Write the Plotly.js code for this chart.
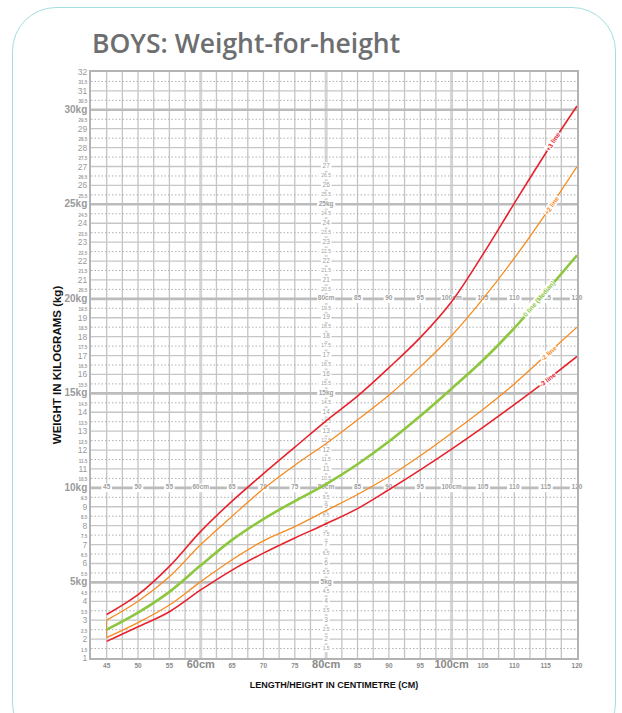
<!DOCTYPE html>
<html><head><meta charset="utf-8">
<script src="https://cdn.plot.ly/plotly-3.0.1.min.js"></script>
<style>
html,body{margin:0;padding:0;background:#fff;}
#frame{position:absolute;left:12px;top:7px;width:604px;height:740px;border:1.5px solid #a3dde0;border-radius:44px;box-sizing:border-box;}
#chart{position:absolute;left:0;top:0;width:622px;height:713px;}
</style></head><body>
<div id="frame"></div>
<div id="chart"></div>
<script>
// ---- data ----
const heights = [45,50,55,60,65,70,75,80,85,90,95,100,105,110,115,120];
const plus3  = [3.3,4.35,5.85,7.7,9.3,10.75,12.15,13.55,14.85,16.35,17.95,19.85,22.35,25.05,27.7,30.2];
const plus2  = [3.0,4.0,5.3,7.0,8.5,9.95,11.2,12.35,13.6,14.9,16.4,18.05,20.0,22.15,24.5,27.0];
const median = [2.5,3.4,4.5,5.9,7.25,8.35,9.3,10.2,11.25,12.45,13.8,15.25,16.75,18.45,20.35,22.3];
const minus2 = [2.08,2.87,3.8,5.04,6.2,7.2,7.95,8.8,9.65,10.6,11.7,12.9,14.15,15.5,17.0,18.5];
const minus3 = [1.88,2.65,3.45,4.6,5.65,6.55,7.35,8.1,8.9,9.9,10.95,12.05,13.2,14.4,15.65,16.95];

const xTickVals   = [45,50,55,60,65,70,75,80,85,90,95,100,105,110,115,120];
const xTickLabels = ['45','50','55','60cm','65','70','75','80cm','85','90','95','100cm','105','110','115','120'];
const row20Vals   = [80,85,90,95,100,105,110,115,120];
const row20Labels = ['80cm','85','90','95','100cm','105','110','115','120'];
const yMin = 1, yMax = 32, yStep = 0.5;
const innerColumnAt = 80, innerColMin = 1.5, innerColMax = 27;
const innerRows = [10, 20];
const lineNames = ['+3 line','+2 line','0 line (Median)','-2 line','-3 line'];
const labelAt = [116.2, 115.9, 114.0, 115.4, 115.3];

// ---- styles ----
const RED = '#e8222c', ORANGE = '#f68b1f', GREEN = '#8dc63f';
const X0 = 42.5, X1 = 120;
const PXX = 486 / (X1 - X0), PXY = 586 / (yMax - yMin);

function interp(xs, ys, x){
  for (let i=0;i<xs.length-1;i++){
    if (x>=xs[i] && x<=xs[i+1]) return ys[i] + (ys[i+1]-ys[i])*(x-xs[i])/(xs[i+1]-xs[i]);
  }
  return ys[ys.length-1];
}

// y tick labels
const yTickVals = [], yTickText = [];
for (let v=yMin; v<=yMax+1e-9; v+=yStep){
  yTickVals.push(v);
  if (Math.abs(v%5)<1e-9) yTickText.push('<span style="font-size:10px;font-weight:bold">'+v+'kg</span>');
  else if (Math.abs(v%1)<1e-9) yTickText.push('<span style="font-size:8.5px">'+v+'</span>');
  else yTickText.push('<span style="font-size:4.5px;font-weight:bold">'+v+'</span>');
}
const xTickText = xTickLabels.map(t => t.indexOf('cm')>=0
  ? '<span style="font-size:11px;font-weight:bold">'+t+'</span>'
  : '<span style="font-size:6.5px;font-weight:bold">'+t+'</span>');

// ---- grid shapes ----
const shapes = [];
for (let v=45; v<X1-0.01; v+=2.5){
  const major = (v===60||v===80||v===100);
  shapes.push({type:'line',xref:'x',yref:'y',x0:v,x1:v,y0:yMin,y1:yMax,layer:'below',
    line:{color: major?'#d4d4d4':'#c4c4c4', width: major?3:1.3}});
}
for (let v=yMin+0.5; v<yMax-0.01; v+=0.5){
  if (Math.abs(v%1)<1e-9){
    const major = Math.abs(v%5)<1e-9;
    shapes.push({type:'line',xref:'x',yref:'y',x0:X0,x1:X1,y0:v,y1:v,layer:'below',
      line:{color: major?'#bcbcbc':'#c6c6c6', width: major?2.6:1.3}});
  } else {
    shapes.push({type:'line',xref:'x',yref:'y',x0:X0,x1:X1,y0:v,y1:v,layer:'below',
      line:{color:'#b0b0b0', width:1, dash:'1.5px,2px'}});
  }
}

// ---- inner labels (column at 80cm, rows at 10kg and 20kg) ----
const lx=[], ly=[], lt=[], ls=[];
function addLabel(x,y,text,size,bold){
  lx.push(x); ly.push(y); lt.push(bold?'<b>'+text+'</b>':text); ls.push(size);
  const w = text.length*0.58*size + 3, h = size + 2;
  shapes.push({type:'rect',xref:'x',yref:'y',x0:x-w/2/PXX,x1:x+w/2/PXX,y0:y-h/2/PXY,y1:y+h/2/PXY,
    fillcolor:'#ffffff',line:{width:0},layer:'below'});
}
for (let v=innerColMin; v<=innerColMax+1e-9; v+=0.5){
  if (innerRows.some(r=>Math.abs(r-v)<1e-9)) continue;
  if (Math.abs(v%5)<1e-9) addLabel(innerColumnAt, v, v+'kg', 6.5, true);
  else if (Math.abs(v%1)<1e-9) addLabel(innerColumnAt, v, String(v), 6.5, false);
  else addLabel(innerColumnAt, v, String(v), 5, false);
}
xTickVals.forEach((x,i)=> addLabel(x, innerRows[0], xTickLabels[i], 6.5, true));
row20Vals.forEach((x,i)=> addLabel(x, innerRows[1], row20Labels[i], 6.5, true));

// ---- traces ----
const traces = [
  {type:'scatter',mode:'text',x:lx,y:ly,text:lt,textposition:'middle center',
   textfont:{family:'Liberation Sans, Arial, sans-serif',size:ls,color:'#a0a0a0'},
   hoverinfo:'skip',showlegend:false,cliponaxis:false},
  {type:'scatter',mode:'lines',x:[heights[0],heights[0]],y:[minus2[0],plus2[0]],
   line:{color:'#d88a3c',width:1},hoverinfo:'skip',showlegend:false},
];
const series = [
  {n:lineNames[4], y:minus3, c:RED,    w:1.6},
  {n:lineNames[3], y:minus2, c:ORANGE, w:1.3},
  {n:lineNames[2], y:median, c:GREEN,  w:2.6},
  {n:lineNames[1], y:plus2,  c:ORANGE, w:1.3},
  {n:lineNames[0], y:plus3,  c:RED,    w:1.6},
];
series.forEach(s=> traces.push({type:'scatter',mode:'lines',name:s.n,x:heights,y:s.y,
  line:{color:s.c,width:s.w,shape:'spline',smoothing:1},showlegend:false}));

// ---- curve labels ----
const curveData = [plus3, plus2, median, minus2, minus3];
const curveCols = [RED, ORANGE, GREEN, ORANGE, RED];
const annotations = curveData.map((ys,i)=>{
  const x = labelAt[i];
  const y = interp(heights, ys, x);
  const slope = (interp(heights, ys, x+1.5)-interp(heights, ys, x-1.5))/3;
  const ang = -Math.atan(slope*PXY/PXX)*180/Math.PI;
  return {x:x, y:y, xref:'x', yref:'y', text:'<b>'+lineNames[i]+'</b>', showarrow:false,
    textangle: ang, bgcolor:'#ffffff', borderpad:0,
    font:{family:'Liberation Sans, Arial, sans-serif', size:6.5, color:curveCols[i]}};
});

const layout = {
  width:622, height:713,
  margin:{l:91, r:45, t:72, b:55},
  paper_bgcolor:'rgba(0,0,0,0)', plot_bgcolor:'#ffffff',
  font:{family:'Liberation Sans, Arial, sans-serif', color:'#9a9a9a'},
  title:{text:'BOYS: Weight-for-height', xref:'container', x:92/622, xanchor:'left',
    yref:'container', y:1-44/713, yanchor:'middle',
    font:{family:'Open Sans, sans-serif', size:26.5, color:'#6d6e70', weight:600}},
  xaxis:{range:[X0,X1], tickmode:'array', tickvals:xTickVals, ticktext:xTickText,
    showgrid:false, zeroline:false, showline:true, mirror:true, linecolor:'#b3b3b3', linewidth:2,
    ticks:'', tickfont:{color:'#8a8a8a', size:7}, automargin:false,
    title:{text:'<b>LENGTH/HEIGHT IN CENTIMETRE (CM)</b>', standoff:12,
      font:{family:'Liberation Sans, Arial, sans-serif', size:9, color:'#111'}}},
  yaxis:{range:[yMin,yMax], tickmode:'array', tickvals:yTickVals, ticktext:yTickText,
    showgrid:false, zeroline:false, showline:true, mirror:true, linecolor:'#b3b3b3', linewidth:2,
    ticks:'', tickfont:{color:'#9a9a9a', size:8.5}, automargin:false,
    title:{text:'<b>WEIGHT IN KILOGRAMS (kg)</b>', standoff:0,
      font:{family:'Liberation Sans, Arial, sans-serif', size:11.5, color:'#111'}}},
  shapes:shapes, annotations:annotations, showlegend:false
};
Plotly.newPlot('chart', traces, layout, {displayModeBar:false, staticPlot:true});
</script>
</body></html>
